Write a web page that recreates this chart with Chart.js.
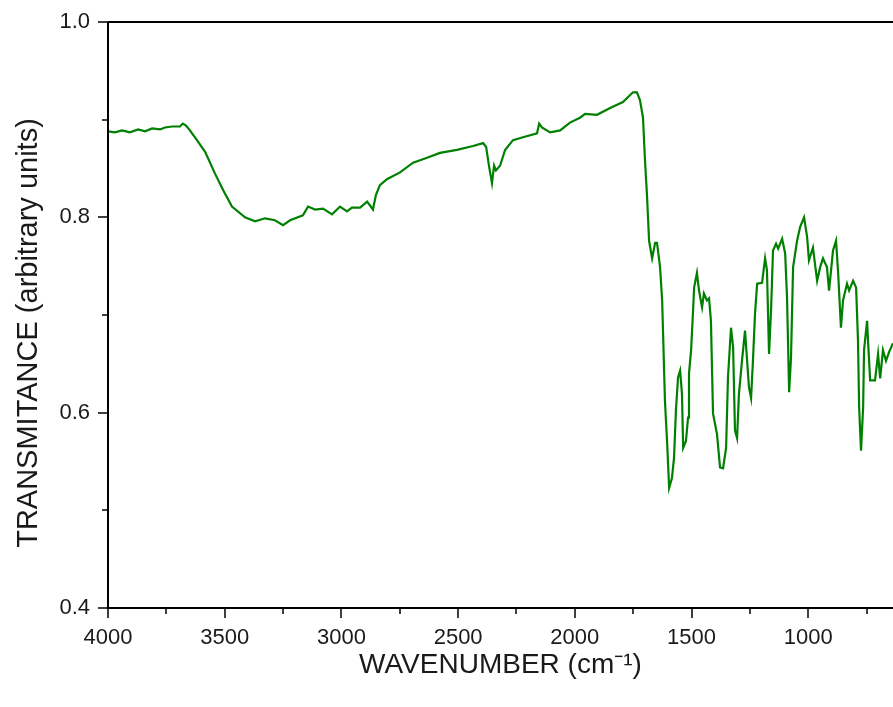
<!DOCTYPE html>
<html>
<head>
<meta charset="utf-8">
<title>FTIR spectrum</title>
<script src="https://cdn.jsdelivr.net/npm/chart.js@4.4.1/dist/chart.umd.min.js"></script>
<style>
  html, body { margin: 0; padding: 0; background: #fff; }
  #wrap { width: 893px; height: 707px; }
</style>
</head>
<body>
<div id="wrap"><canvas id="spectrum" width="893" height="707"></canvas></div>
<script>
// wavenumber (cm-1)
const wavenumbers = [
  4000, 3970, 3940, 3906, 3871, 3841, 3811, 3777, 3756, 3726, 3692, 3679, 3666, 3649,
  3619, 3584, 3542, 3507, 3469, 3413, 3370, 3327, 3285, 3250, 3220, 3165, 3143, 3113,
  3079, 3040, 3006, 2976, 2955, 2920, 2890, 2865, 2852, 2835, 2805, 2749, 2693, 2633,
  2578, 2505, 2436, 2393, 2380, 2368, 2355, 2346, 2338, 2320, 2299, 2265, 2222, 2162,
  2153, 2141, 2106, 2063, 2021, 1978, 1956, 1905, 1849, 1794, 1751, 1734, 1721, 1708,
  1699, 1691, 1686, 1682, 1669, 1656, 1648, 1635, 1626, 1622, 1614, 1605, 1596, 1584,
  1575, 1567, 1558, 1549, 1541, 1536, 1524, 1515, 1511, 1502, 1494, 1489, 1477, 1468,
  1455, 1447, 1434, 1425, 1417, 1408, 1391, 1378, 1365, 1352, 1344, 1331, 1322, 1314,
  1305, 1297, 1284, 1271, 1262, 1254, 1245, 1237, 1228, 1219, 1198, 1185, 1177, 1168,
  1159, 1151, 1138, 1129, 1112, 1099, 1091, 1082, 1074, 1065, 1048, 1035, 1018, 1005,
  997, 980, 962, 949, 937, 920, 911, 894, 881, 872, 860, 851, 834, 825,
  808, 795, 787, 782, 774, 765, 761, 748, 744, 735, 714, 701, 692, 680,
  667, 654, 637
];

// transmittance (arbitrary units)
const transmittance = [
  0.888, 0.887, 0.889, 0.887, 0.890, 0.888, 0.891, 0.890, 0.892, 0.893, 0.893, 0.896, 0.894, 0.889,
  0.879, 0.867, 0.845, 0.828, 0.811, 0.800, 0.796, 0.799, 0.797, 0.792, 0.797, 0.802, 0.811, 0.808,
  0.809, 0.803, 0.811, 0.806, 0.810, 0.810, 0.816, 0.808, 0.823, 0.833, 0.839, 0.846, 0.856, 0.861,
  0.866, 0.869, 0.873, 0.876, 0.872, 0.853, 0.835, 0.853, 0.848, 0.853, 0.869, 0.879, 0.882, 0.886,
  0.896, 0.892, 0.887, 0.889, 0.897, 0.902, 0.906, 0.905, 0.912, 0.918, 0.928, 0.928, 0.920, 0.902,
  0.856, 0.823, 0.797, 0.776, 0.758, 0.774, 0.774, 0.749, 0.715, 0.681, 0.612, 0.571, 0.523, 0.533,
  0.554, 0.602, 0.636, 0.643, 0.619, 0.564, 0.571, 0.595, 0.640, 0.664, 0.702, 0.728, 0.743, 0.725,
  0.708, 0.722, 0.715, 0.717, 0.694, 0.599, 0.578, 0.544, 0.543, 0.564, 0.636, 0.687, 0.667, 0.582,
  0.574, 0.619, 0.653, 0.684, 0.653, 0.626, 0.615, 0.653, 0.702, 0.732, 0.733, 0.758, 0.746, 0.660,
  0.708, 0.766, 0.773, 0.768, 0.778, 0.763, 0.718, 0.621, 0.656, 0.749, 0.776, 0.790, 0.800, 0.780,
  0.756, 0.769, 0.735, 0.749, 0.758, 0.749, 0.725, 0.766, 0.776, 0.743, 0.687, 0.715, 0.732, 0.725,
  0.735, 0.728, 0.674, 0.605, 0.561, 0.605, 0.664, 0.694, 0.674, 0.633, 0.633, 0.660, 0.635, 0.664,
  0.653, 0.662, 0.671
];

const xMajorTicks = [4000, 3500, 3000, 2500, 2000, 1500, 1000];
const xMinorTicks = [3750, 3250, 2750, 2250, 1750, 1250, 750];
const yMajorTicks = [0.4, 0.6, 0.8, 1.0];
const yMinorTicks = [0.5, 0.7, 0.9];

const yTitle = "TRANSMITANCE (arbitrary units)";
const xTitle = "WAVENUMBER (cm\u207B\u00B9)";

const fontFamily = "'Liberation Sans', Arial, sans-serif";
const textColor = "#1a1a1a";

const points = wavenumbers.map((w, i) => ({ x: w, y: transmittance[i] }));

// draws the frame, the outward tick marks (major + minor) and the y title
const frameTicks = {
  id: "frameTicks",
  afterDraw(chart) {
    const { ctx, chartArea, scales } = chart;
    const xs = scales.x;
    const ys = scales.y;
    ctx.save();
    ctx.strokeStyle = "#000";
    ctx.lineWidth = 2;

    ctx.beginPath();
    ctx.moveTo(chartArea.left, chartArea.top);
    ctx.lineTo(chartArea.right, chartArea.top);
    ctx.moveTo(chartArea.left, chartArea.top);
    ctx.lineTo(chartArea.left, chartArea.bottom);
    ctx.lineTo(chartArea.right, chartArea.bottom);
    ctx.stroke();

    ctx.lineWidth = 1.5;
    ctx.beginPath();
    for (const v of xMajorTicks) {
      const px = Math.round(xs.getPixelForValue(v));
      ctx.moveTo(px, chartArea.bottom);
      ctx.lineTo(px, chartArea.bottom + 10);
    }
    for (const v of xMinorTicks) {
      const px = Math.round(xs.getPixelForValue(v));
      ctx.moveTo(px, chartArea.bottom);
      ctx.lineTo(px, chartArea.bottom + 6);
    }
    for (const v of yMajorTicks) {
      const py = Math.round(ys.getPixelForValue(v));
      ctx.moveTo(chartArea.left, py);
      ctx.lineTo(chartArea.left - 10, py);
    }
    for (const v of yMinorTicks) {
      const py = Math.round(ys.getPixelForValue(v));
      ctx.moveTo(chartArea.left, py);
      ctx.lineTo(chartArea.left - 6, py);
    }
    ctx.stroke();

    // y title sits a bit below the middle in the original
    ctx.translate(29, 333);
    ctx.rotate(-Math.PI / 2);
    ctx.fillStyle = textColor;
    ctx.font = "29px " + fontFamily;
    ctx.textAlign = "center";
    ctx.textBaseline = "middle";
    ctx.fillText(yTitle, 0, 0);
    ctx.restore();
  },
};

new Chart(document.getElementById("spectrum"), {
  type: "line",
  data: {
    datasets: [
      {
        data: points,
        borderColor: "#008000",
        borderWidth: 2.2,
        pointRadius: 0,
        tension: 0,
        fill: false,
      },
    ],
  },
  options: {
    responsive: false,
    animation: false,
    layout: { padding: { top: 22, right: 0, left: 0, bottom: 0 } },
    plugins: {
      legend: { display: false },
      tooltip: { enabled: false },
    },
    scales: {
      x: {
        type: "linear",
        reverse: true,
        min: 637,
        max: 4000,
        grid: { display: false, drawTicks: false },
        border: { display: false },
        afterBuildTicks: (scale) => {
          scale.ticks = xMajorTicks.map((v) => ({ value: v }));
        },
        ticks: {
          padding: 17,
          maxRotation: 0,
          autoSkip: false,
          color: textColor,
          font: { family: fontFamily, size: 22 },
          callback: (v) => String(v),
        },
        afterFit: (scale) => {
          scale.height = 99;
          scale.paddingLeft = 0;
          scale.paddingRight = 0;
        },
        title: {
          display: true,
          text: xTitle,
          color: textColor,
          font: { family: fontFamily, size: 28 },
          padding: { top: 0, bottom: 25 },
        },
      },
      y: {
        min: 0.4,
        max: 1.0,
        grid: { display: false, drawTicks: false },
        border: { display: false },
        afterBuildTicks: (scale) => {
          scale.ticks = yMajorTicks.map((v) => ({ value: v }));
        },
        ticks: {
          padding: 18,
          color: textColor,
          font: { family: fontFamily, size: 22 },
          callback: (v) => v.toFixed(1),
        },
        afterFit: (scale) => {
          scale.width = 108;
          scale.paddingTop = 0;
          scale.paddingBottom = 0;
        },
      },
    },
  },
  plugins: [frameTicks],
});
</script>
</body>
</html>
